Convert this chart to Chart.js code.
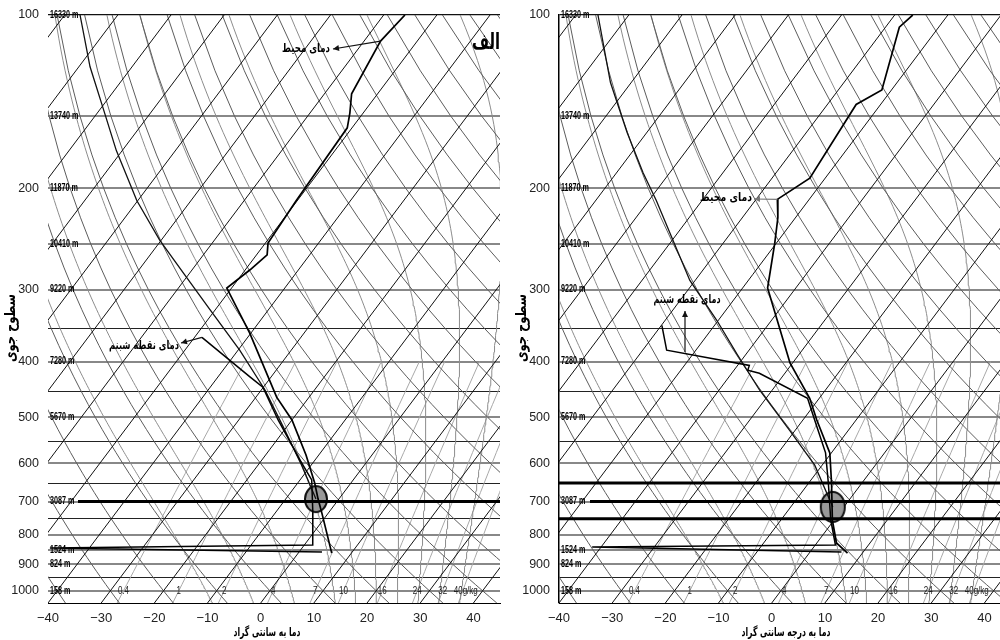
<!DOCTYPE html>
<html>
<head>
<meta charset="utf-8">
<title>Skew-T</title>
<script src="https://cdn.jsdelivr.net/npm/chart.js@4.4.1/dist/chart.umd.min.js"></script>
<style>
  html,body{margin:0;padding:0;background:#fff}
  body{width:1000px;height:640px;overflow:hidden;position:relative}
  canvas{position:absolute;top:0}
  #leftChart{left:0}
  #rightChart{left:510px}
</style>
</head>
<body>
<canvas id="leftChart" width="505" height="640"></canvas>
<canvas id="rightChart" width="506" height="640"></canvas>
<script>
// axes
const pressureLevels = [100,150,200,250,300,350,400,450,500,550,600,650,700,750,800,850,900,950,1000,1050];
const pressureLabels = [100,200,300,400,500,600,700,800,900,1000];
const xTicks = [-40,-30,-20,-10,0,10,20,30,40];
const heightLevels = [100,150,200,250,300,400,500,700,850,900,1000];
const heightLabels = ['16330 m','13740 m','11870 m','10410 m','9220 m','7280 m','5670 m','3087 m','1524 m','824 m','158 m'];

// diagram background lines
const isotherms = [-120,-110,-100,-90,-80,-70,-60,-50,-40,-30,-20,-10,0,10,20,30,40];
const dryAdiabats = [-40,-30,-20,-10,0,10,20,30,40,50,60,70,80,90,100,110,120,130,140,150,160,170,180];
const moistAdiabats = [-12,-4,4,12,16,20,24,28,32,36];
const mixingRatios = [0.4,1,2,4,7,10,16,24,32,40];
const mixingLabels = ['0.4','1','2','4','7','10','16','24','32','40g/kg'];

// left sounding (hPa, °C)
const leftTempP = [100,111,137,148,157,210,249,261,277,298,357,461,505,581,650,693,733,860];
const leftTempT = [-56.0,-56.9,-54.9,-52.5,-50.9,-50.2,-49.5,-48.0,-49.1,-50.9,-40.2,-26.1,-20.0,-12.4,-6.8,-3.9,-1.2,6.3];
const leftDewP = [363,425,443,505,593,642,733,833,843,856];
const leftDewT = [-48.6,-34.0,-30.1,-22.6,-12.8,-7.8,-2.9,1.6,-47.4,4.3];
const leftParcelP = [100,123,146,172,210,246,283,325,382,448,526,605,693];
const leftParcelT = [-117.1,-107.9,-99.3,-91.1,-80.2,-70.3,-60.6,-51.0,-39.7,-29.3,-19.9,-11.8,-4.3];
const leftLcl = [693,-4.3];

// right sounding (hPa, °C)
const rightTempP = [100,105,135,143,192,209,225,249,298,402,463,505,576,650,754,826,860];
const rightTempT = [-56.6,-57.4,-51.8,-54.6,-52.9,-56.0,-53.3,-50.3,-45.3,-30.5,-21.8,-17.4,-10.3,-5.7,-0.3,3.7,7.2];
const rightDewP = [346,382,406,414,419,463,505,576,650,754,833,839,856];
const rightDewT = [-59.9,-55.5,-37.8,-37.4,-34.8,-22.2,-17.8,-11.1,-6.3,-0.6,3.8,-41.7,5.9];
const rightParcelP = [100,131,160,188,210,289,339,387,448,526,605,715];
const rightParcelT = [-115.8,-103.9,-93.7,-85.0,-78.6,-61.0,-50.3,-41.9,-32.4,-21.1,-11.4,-2.1];
const rightLcl = [715,-2.1];

const NUM_FONT = '"Liberation Sans",Arial,sans-serif';
const FA_FONT = '"DejaVu Sans",sans-serif';

// skew-T geometry
const SKEW = 81.4, PBOT = 1050;
function skewX(t,p){ return t + SKEW*Math.log10(PBOT/p); }
function es(t){ return 6.112*Math.exp(17.67*t/(t+243.5)); }
function mrTemp(w,p){ const e=w*p/(622+w); const l=Math.log(e/6.112); return 243.5*l/(17.67-l); }
function lapse(t,p){
  const T=t+273.15, e=es(t), rs=0.622*e/(p-e);
  return (287*T+2.5e6*rs)/(1004+2.5e6*2.5e6*rs*0.622/(287*T*T))/p;
}
function moistLine(tw){
  const up=[], down=[];
  let t=tw;
  for(let p=1000;p>=100;p-=5){ up.push({x:skewX(t,p),y:p}); t-=lapse(t,p)*5; }
  t=tw;
  for(let p=1000;p<=1050;p+=5){ down.push({x:skewX(t,p),y:p}); t+=lapse(t,p)*5; }
  return down.reverse().concat(up.slice(1));
}
function dryLine(th){
  const pts=[];
  for(let p=1050;p>=100;p-=25) pts.push({x:skewX((th+273.15)*Math.pow(p/1000,0.286)-273.15,p),y:p});
  return pts;
}
function mrLine(w){
  const pts=[];
  for(let p=1050;p>=400;p-=25) pts.push({x:skewX(mrTemp(w,p),p),y:p});
  return pts;
}
function toPts(P,T){ return P.map((p,i)=>({x:skewX(T[i],p),y:p})); }

function bgSet(data,color){
  return {data, showLine:true, borderColor:color, borderWidth:1, pointRadius:0, order:10};
}
function ellipse(w,h){
  const c=document.createElement('canvas'); c.width=w+4; c.height=h+4;
  const g=c.getContext('2d');
  g.beginPath(); g.ellipse(c.width/2,c.height/2,w/2,h/2,0,0,Math.PI*2);
  g.fillStyle='#999'; g.fill(); g.lineWidth=2; g.strokeStyle='#111'; g.stroke();
  return c;
}
function arrow(ctx,x1,y1,x2,y2,color){
  ctx.save(); ctx.strokeStyle=color; ctx.fillStyle=color; ctx.lineWidth=1.2;
  ctx.beginPath(); ctx.moveTo(x1,y1); ctx.lineTo(x2,y2); ctx.stroke();
  const a=Math.atan2(y2-y1,x2-x1);
  ctx.beginPath(); ctx.moveTo(x2,y2);
  ctx.lineTo(x2-6*Math.cos(a)+3*Math.sin(a), y2-6*Math.sin(a)-3*Math.cos(a));
  ctx.lineTo(x2-6*Math.cos(a)-3*Math.sin(a), y2-6*Math.sin(a)+3*Math.cos(a));
  ctx.closePath(); ctx.fill(); ctx.restore();
}
// Persian text squeezed to the width it has in the picture
function faText(ctx,text,x,y,align,size,width,rot){
  ctx.save();
  ctx.font='bold '+size+'px '+FA_FONT; ctx.fillStyle='#000'; ctx.textBaseline='middle'; ctx.textAlign='left';
  const w=ctx.measureText(text).width, k=width/w;
  ctx.translate(x,y);
  if(rot) ctx.rotate(rot);
  const left = align==='right' ? -width : align==='center' ? -width/2 : 0;
  ctx.translate(left,0); ctx.scale(k,1);
  ctx.fillText(text,0,0);
  ctx.restore();
}

const overlay = {
  id:'overlay',
  afterDatasetsDraw(chart){
    const s=chart.options.plugins.overlay, ctx=chart.ctx, xs=chart.scales.x, ys=chart.scales.y, a=chart.chartArea;
    ctx.save();
    // heavy isobars
    s.heavy.forEach(h=>{
      const y=ys.getPixelForValue(h.p);
      ctx.beginPath(); ctx.moveTo(a.left+h.from,y); ctx.lineTo(a.right,y);
      ctx.lineWidth=3; ctx.strokeStyle='#000'; ctx.stroke();
    });
    // height labels (narrowed)
    ctx.font='bold 10px '+NUM_FONT; ctx.fillStyle='#000'; ctx.textBaseline='middle'; ctx.textAlign='left';
    heightLevels.forEach((p,i)=>{
      ctx.save(); ctx.translate(a.left+2,ys.getPixelForValue(p)); ctx.scale(0.72,1);
      ctx.fillText(heightLabels[i],0,0); ctx.restore();
    });
    // mixing ratio labels at 1000 hPa
    ctx.font='10px '+NUM_FONT; ctx.fillStyle='#222'; ctx.textAlign='center';
    const y1000=ys.getPixelForValue(1000);
    mixingRatios.forEach((w,i)=>{
      const x=xs.getPixelForValue(skewX(mrTemp(w,1000),1000));
      ctx.save(); ctx.translate(x+(i===mixingRatios.length-1?3:0),y1000); ctx.scale(0.8,1);
      ctx.fillText(mixingLabels[i],0,0); ctx.restore();
    });
    // labels with arrows
    s.notes.forEach(n=>{
      let tx, ty;
      if(n.anchor){ tx=xs.getPixelForValue(skewX(n.anchor[1],n.anchor[0])); ty=ys.getPixelForValue(n.anchor[0]); }
      else { tx=n.tail[0]; ty=n.tail[1]; }
      arrow(ctx,tx,ty,n.head[0],n.head[1],n.color||'#111');
      faText(ctx,n.text,n.tx,n.ty,n.align,12,n.w);
    });
    if(s.tag) faText(ctx,s.tag,a.right,43,'right',22,28);
    ctx.restore();
  },
  afterDraw(chart){
    const s=chart.options.plugins.overlay, ctx=chart.ctx;
    faText(ctx,'سطوح جوی',s.yTitleX,328,'center',15,68,-Math.PI/2);
    faText(ctx,s.xTitle,s.xTitleX,633,'center',12,s.xTitleW);
  }
};

function gridStyle(p){
  if(p===100) return ['#111',1.2];
  if(heightLevels.includes(p)||p%100===0) return ['#888',2];
  return ['#222',1];
}

function buildChart(id,s){
  const bg=[];
  isotherms.forEach(t=>bg.push(bgSet([{x:skewX(t,1050),y:1050},{x:skewX(t,100),y:100}],'#111')));
  dryAdiabats.forEach(th=>bg.push(bgSet(dryLine(th),'#5c5c5c')));
  moistAdiabats.forEach(tw=>bg.push(bgSet(moistLine(tw),'#8c8c8c')));
  mixingRatios.forEach(w=>bg.push(bgSet(mrLine(w),'#a8a8a8')));
  const sounding=[
    {data:toPts(s.tempP,s.tempT), showLine:true, borderColor:'#000', borderWidth:1.7, pointRadius:0, order:0},
    {data:toPts(s.dewP,s.dewT), showLine:true, borderColor:'#000', borderWidth:1.5, pointRadius:0, order:0},
    {data:toPts(s.parcelP,s.parcelT), showLine:true, borderColor:'#111', borderWidth:1.3, pointRadius:0, order:1},
    {data:[{x:skewX(s.lcl[1],s.lcl[0]),y:s.lcl[0]}], showLine:false, pointStyle:s.circle, pointRadius:12, order:5}
  ];
  return new Chart(document.getElementById(id),{
    type:'scatter',
    data:{datasets:sounding.concat(bg)},
    plugins:[overlay],
    options:{
      responsive:false, animation:false, events:[],
      layout:{autoPadding:false, padding:{top:15,right:5,left:0,bottom:0}},
      plugins:{legend:{display:false}, tooltip:{enabled:false}, overlay:s},
      scales:{
        x:{type:'linear', min:-40, max:45,
          afterBuildTicks:sc=>{sc.ticks=xTicks.map(v=>({value:v}));},
          afterFit:sc=>{sc.height=37; sc.paddingLeft=0; sc.paddingRight=0;},
          grid:{display:false, drawTicks:false},
          border:{display:true, color:'#000', width:1},
          ticks:{padding:8, autoSkip:false, maxRotation:0, color:'#222', font:{family:NUM_FONT,size:13},
            callback:v=>v<0?'\u2212'+(-v):String(v)}
        },
        y:{type:'logarithmic', reverse:true, min:100, max:1050,
          afterBuildTicks:sc=>{sc.ticks=pressureLevels.map(v=>({value:v}));},
          afterFit:sc=>{sc.width=s.yWidth; sc.paddingTop=0; sc.paddingBottom=0;},
          grid:{drawTicks:false, color:c=>gridStyle(c.tick.value)[0], lineWidth:c=>gridStyle(c.tick.value)[1]},
          border:{display:s.leftBorder, color:'#000', width:1.5},
          ticks:{padding:9, autoSkip:false, color:'#222', font:{family:NUM_FONT,size:12.5},
            callback:v=>pressureLabels.includes(v)?String(v):''}
        }
      }
    }
  });
}

buildChart('leftChart',{
  tempP:leftTempP, tempT:leftTempT, dewP:leftDewP, dewT:leftDewT,
  parcelP:leftParcelP, parcelT:leftParcelT, lcl:leftLcl, circle:ellipse(22,26),
  yWidth:48, leftBorder:false, yTitleX:11, xTitle:'دما به سانتی گراد', xTitleX:267, xTitleW:67, tag:'الف',
  heavy:[{p:700,from:30}],
  notes:[
    {anchor:[111,-56.9], head:[333,49], text:'دمای محیط', tx:330, ty:49, align:'right', w:48},
    {anchor:[363,-48.6], head:[181,343], text:'دمای نقطه شبنم', tx:179, ty:346, align:'right', w:70}
  ]
});
buildChart('rightChart',{
  tempP:rightTempP, tempT:rightTempT, dewP:rightDewP, dewT:rightDewT,
  parcelP:rightParcelP, parcelT:rightParcelT, lcl:rightLcl, circle:ellipse(24,30),
  yWidth:49, leftBorder:true, yTitleX:12, xTitle:'دما به درجه سانتی گراد', xTitleX:276, xTitleW:89, tag:null,
  heavy:[{p:650,from:0},{p:700,from:31},{p:750,from:0}],
  notes:[
    {anchor:[209,-56.0], head:[244,199], color:'#777', text:'دمای محیط', tx:242, ty:198, align:'right', w:52},
    {tail:[175,352], head:[175,311], text:'دمای نقطه شبنم', tx:177, ty:300, align:'center', w:67}
  ]
});
</script>
</body>
</html>
